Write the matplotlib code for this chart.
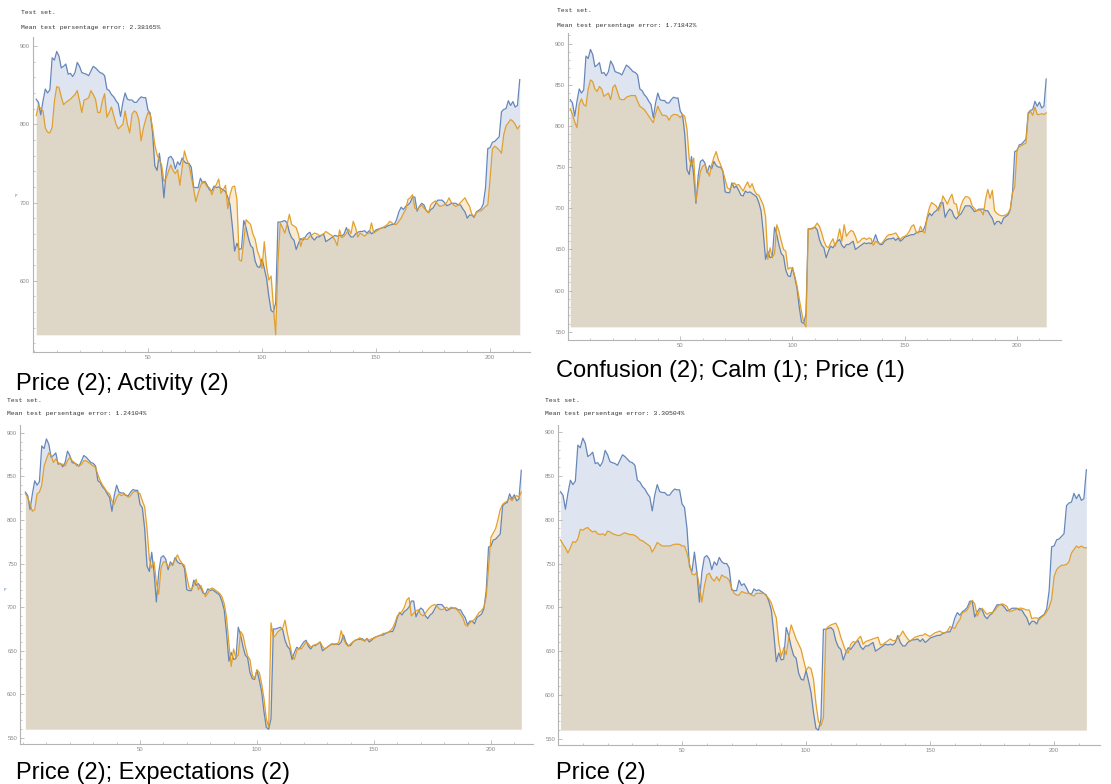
import numpy as np
import matplotlib
matplotlib.use("Agg")
import matplotlib.pyplot as plt
from matplotlib.ticker import MultipleLocator

W, H = 1111, 784

# actual price over the test set (same for every model)
price_actual = [
    832, 828, 812, 830, 845, 840, 844, 885, 882, 893,
    887, 872, 874, 877, 864, 865, 861, 866, 879, 874,
    866, 865, 864, 862, 868, 874, 872, 869, 866, 865,
    862, 845, 843, 838, 835, 830, 826, 810, 828, 840,
    832, 831, 831, 828, 828, 832, 835, 834, 834, 818,
    814, 790, 747, 741, 763, 740, 706, 740, 757, 759,
    755, 743, 752, 748, 757, 752, 750, 750, 745, 720,
    719, 719, 731, 725, 727, 722, 716, 715, 721, 719,
    720, 718, 716, 714, 707, 697, 670, 638, 648, 640,
    641, 677, 668, 655, 645, 642, 625, 618, 617, 628,
    616, 603, 580, 562, 560, 572, 675, 675, 676, 677,
    674, 662, 655, 652, 640, 648, 654, 652, 656, 660,
    662, 655, 652, 656, 656, 658, 660, 650, 652, 654,
    656, 658, 657, 658, 657, 660, 668, 660, 656, 656,
    660, 662, 663, 663, 664, 661, 664, 660, 662, 665,
    666, 667, 668, 668, 670, 671, 672, 672, 678, 688,
    694, 691, 695, 697, 700, 707, 707, 689, 695, 699,
    697, 690, 687, 691, 693, 698, 703, 703, 703, 700,
    696, 697, 699, 699, 699, 697, 697, 692, 688, 680,
    684, 684, 681, 688, 690, 692, 698, 719, 769, 770,
    777, 778, 781, 784, 816, 819, 820, 830, 824, 829,
    822, 824, 857]

# model predictions
pred_activity = [
    811, 824, 820, 817, 795, 790, 789, 796, 830, 848,
    847, 835, 825, 828, 830, 832, 835, 838, 843, 830,
    815, 831, 832, 834, 843, 838, 832, 815, 815, 830,
    839, 809, 815, 822, 811, 800, 794, 797, 800, 817,
    800, 789, 813, 817, 815, 806, 779, 795, 806, 815,
    812, 796, 774, 761, 754, 748, 727, 731, 740, 748,
    741, 737, 742, 722, 745, 766, 755, 748, 733, 718,
    701, 712, 721, 727, 725, 720, 719, 710, 718, 723,
    730, 712, 716, 722, 692, 710, 720, 721, 704, 627,
    625, 650, 678, 675, 672, 660, 653, 638, 630, 616,
    650, 618, 601, 606, 567, 531, 623, 674, 668, 661,
    672, 685, 672, 670, 668, 659, 644, 655, 653, 653,
    657, 659, 661, 660, 658, 658, 660, 663, 661, 659,
    657, 652, 645, 665, 655, 657, 661, 666, 660, 676,
    668, 656, 661, 659, 657, 660, 661, 674, 661, 663,
    665, 667, 668, 670, 672, 676, 674, 672, 672, 676,
    680, 686, 691, 704, 706, 710, 693, 691, 694, 697,
    693, 690, 687, 697, 700, 702, 698, 695, 696, 697,
    700, 706, 700, 697, 695, 697, 700, 703, 706, 700,
    695, 685, 682, 687, 689, 689, 692, 695, 697, 730,
    768, 772, 770, 767, 763, 787, 798, 802, 806, 804,
    800, 794, 798]

pred_confusion = [
    821, 814, 805, 798, 826, 833, 826, 824, 845, 856,
    854, 845, 842, 848, 845, 836, 838, 840, 832, 847,
    850, 842, 833, 832, 832, 835, 836, 837, 837, 837,
    830, 824, 822, 820, 816, 812, 808, 804, 815, 824,
    818, 813, 813, 812, 807, 812, 814, 814, 813, 810,
    814, 812, 796, 760, 751, 761, 709, 727, 745, 751,
    753, 746, 739, 753, 762, 769, 759, 753, 745, 735,
    725, 723, 727, 731, 728, 729, 725, 721, 727, 732,
    725, 730, 722, 717, 716, 710, 704, 690, 638, 652,
    640, 645, 680, 672, 660, 650, 648, 626, 628, 627,
    618, 606, 590, 575, 561, 556, 675, 675, 675, 678,
    682, 678, 670, 660, 654, 652, 658, 663, 654, 662,
    675, 660, 680, 666, 670, 673, 672, 666, 658, 660,
    663, 664, 662, 664, 663, 655, 660, 658, 657, 658,
    662, 666, 668, 668, 669, 670, 666, 662, 665, 666,
    668, 672, 678, 680, 672, 670, 678, 672, 670, 690,
    701, 707, 705, 703, 697, 703, 715, 710, 705, 712,
    717, 706, 705, 691, 703, 710, 714, 714, 712, 703,
    700, 697, 698, 697, 692, 711, 723, 712, 722, 697,
    694, 692, 691, 691, 692, 694, 699, 719, 726, 771,
    775, 776, 778, 779, 814, 818, 813, 823, 814, 814,
    815, 814, 816]

pred_expect = [
    830, 826, 818, 810, 812, 830, 832, 840, 862, 870,
    877, 874, 866, 870, 866, 864, 864, 862, 868, 872,
    868, 866, 862, 862, 864, 868, 868, 866, 864, 862,
    860, 852, 845, 840, 836, 832, 830, 822, 818, 826,
    830, 828, 829, 829, 826, 828, 832, 833, 832, 830,
    822, 815, 790, 755, 745, 752, 728, 715, 745, 752,
    752, 746, 748, 750, 754, 760, 754, 750, 748, 735,
    722, 720, 725, 732, 720, 725, 718, 712, 716, 721,
    722, 720, 718, 716, 712, 704, 688, 658, 632, 652,
    642, 645, 672, 668, 655, 644, 640, 622, 618, 628,
    625, 612, 595, 572, 562, 682, 665, 668, 672, 674,
    676, 685, 670, 658, 645, 640, 650, 653, 652, 656,
    660, 658, 654, 656, 657, 658, 660, 655, 652, 654,
    656, 657, 658, 657, 660, 673, 664, 658, 655, 658,
    660, 662, 663, 665, 662, 662, 664, 662, 664, 664,
    666, 667, 668, 670, 670, 671, 673, 676, 682, 690,
    693, 695, 700, 708, 711, 690, 693, 696, 697, 692,
    690, 693, 697, 700, 702, 703, 701, 698, 697, 698,
    700, 698, 700, 699, 698, 696, 692, 688, 680, 678,
    682, 684, 686, 690, 694, 696, 700, 712, 745, 780,
    785, 790, 800, 812, 818, 820, 822, 825, 822, 826,
    828, 826, 832]

pred_price = [
    777, 772, 768, 762, 768, 775, 774, 778, 789, 788,
    790, 791, 788, 786, 787, 784, 783, 784, 782, 787,
    786, 784, 783, 782, 782, 784, 785, 784, 783, 783,
    782, 780, 777, 776, 774, 772, 770, 763, 768, 774,
    772, 770, 770, 770, 770, 771, 772, 772, 772, 770,
    770, 762, 750, 738, 737, 740, 724, 706, 724, 737,
    739, 733, 730, 735, 730, 737, 735, 734, 731, 722,
    716, 714, 714, 718, 717, 716, 716, 714, 713, 716,
    716, 716, 716, 713, 710, 705, 696, 688, 660, 644,
    654, 646, 665, 680, 672, 664, 658, 652, 640, 628,
    632, 630, 618, 590, 570, 565, 574, 675, 678, 680,
    681, 682, 676, 666, 658, 650, 648, 658, 661, 660,
    664, 667, 658, 661, 662, 663, 664, 665, 666, 657,
    658, 660, 662, 664, 662, 662, 665, 668, 673, 668,
    664, 661, 664, 666, 667, 668, 668, 670, 668, 667,
    669, 671, 672, 673, 671, 671, 673, 678, 677, 676,
    682, 686, 694, 695, 697, 703, 708, 704, 690, 696,
    699, 695, 692, 694, 694, 696, 700, 703, 704, 703,
    701, 695, 696, 697, 698, 699, 699, 698, 697, 697,
    687, 688, 688, 686, 689, 691, 695, 700, 709, 735,
    743, 746, 748, 748, 749, 752, 762, 766, 770, 768,
    770, 768, 768]

captions = ["Price (2); Activity (2)", "Confusion (2); Calm (1); Price (1)",
            "Price (2); Expectations (2)", "Price (2)"]
errors = ["2.38165", "1.71842", "1.24104", "3.30504"]
predictions = [pred_activity, pred_confusion, pred_expect, pred_price]

BLUE = "#5E81B5"
ORANGE = "#E19C24"
AXGRAY = "#b4b4b4"
LBLGRAY = "#8a8a8a"

# pixel layout of each screenshot: axes box (l, t, r, b), x/y limits,
# y major step, y minor step, header text origin, caption origin
panels = [
    dict(box=(33, 37, 530, 352), xlim=(-0.4, 217.5), ylim=(509, 911.5),
         ymaj=100, ymin=20, head=(21, 13), cap=(16, 390)),
    dict(box=(568, 33, 1061, 340), xlim=(0, 219.6), ylim=(540, 913),
         ymaj=50, ymin=10, head=(557, 11), cap=(556, 377)),
    dict(box=(20, 425, 533, 744), xlim=(-1.3, 218), ylim=(543, 909),
         ymaj=50, ymin=10, head=(7, 400), cap=(16, 779)),
    dict(box=(558, 425, 1100, 745), xlim=(0, 218.5), ylim=(543, 908),
         ymaj=50, ymin=10, head=(545, 400), cap=(556, 779)),
]

fig = plt.figure(figsize=(W / 100, H / 100), dpi=100)
fig.patch.set_facecolor("white")

x = np.arange(1, len(price_actual) + 1)
actual = np.array(price_actual, dtype=float)

for k, p in enumerate(panels):
    l, t, r, b = p["box"]
    ax = fig.add_axes([l / W, 1 - b / H, (r - l) / W, (b - t) / H])
    pred = np.array(predictions[k], dtype=float)
    base = min(actual.min(), pred.min())

    ax.fill_between(x, base, actual, color=BLUE, alpha=0.2, lw=0)
    ax.fill_between(x, base, pred, color=ORANGE, alpha=0.2, lw=0)
    ax.plot(x, actual, color=BLUE, lw=0.9, alpha=0.95)
    ax.plot(x, pred, color=ORANGE, lw=0.9, alpha=0.95)

    ax.set_xlim(*p["xlim"])
    ax.set_ylim(*p["ylim"])
    ax.set_facecolor("none")
    for s in ["top", "right"]:
        ax.spines[s].set_visible(False)
    for s in ["left", "bottom"]:
        ax.spines[s].set_color(AXGRAY)
        ax.spines[s].set_linewidth(0.8)

    ax.xaxis.set_major_locator(MultipleLocator(50))
    ax.xaxis.set_minor_locator(MultipleLocator(10))
    ax.yaxis.set_major_locator(MultipleLocator(p["ymaj"]))
    ax.yaxis.set_minor_locator(MultipleLocator(p["ymin"]))
    ax.set_xticks([50, 100, 150, 200])
    ax.tick_params(which="major", direction="in", length=3, width=0.6,
                   color=AXGRAY, labelsize=4.3, labelcolor=LBLGRAY, pad=2)
    ax.tick_params(which="minor", direction="in", length=1.6, width=0.5,
                   color=AXGRAY)
    for lab in ax.get_xticklabels() + ax.get_yticklabels():
        lab.set_family("Liberation Sans")

    hx, hy = p["head"]
    fig.text(hx / W, 1 - hy / H, "Test set.", family="Liberation Mono",
             fontsize=4.6, color="#333333", va="center", ha="left")
    fig.text(hx / W, 1 - (hy + 14) / H,
             "Mean test persentage error: " + errors[k] + "%",
             family="Liberation Mono", fontsize=4.6, color="#333333",
             va="center", ha="left")

    cx, cy = p["cap"]
    fig.text(cx / W, 1 - cy / H, captions[k], family="Liberation Sans",
             fontsize=17, color="black", va="baseline", ha="left")

# small axis-label glyphs at the left edge
fig.text(15 / W, 1 - 196 / H, "P", fontsize=3, color=BLUE, va="center")
fig.text(4 / W, 1 - 590 / H, "P", fontsize=3, color=BLUE, va="center")

fig.savefig("out.png", dpi=100)
